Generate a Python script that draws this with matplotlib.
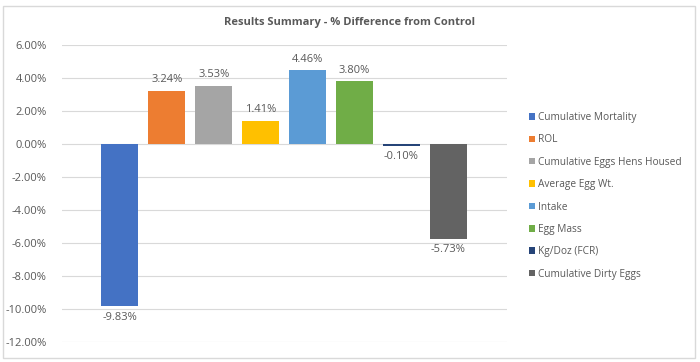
import matplotlib.pyplot as plt
import numpy as np

categories = ["Cumulative Mortality", "ROL", "Cumulative Eggs Hens Housed",
              "Average Egg Wt.", "Intake", "Egg Mass", "Kg/Doz (FCR)",
              "Cumulative Dirty Eggs"]
values = [-9.83, 3.24, 3.53, 1.41, 4.46, 3.80, -0.10, -5.73]
colors = ["#4472C4", "#ED7D31", "#A5A5A5", "#FFC000", "#5B9BD5", "#70AD47",
          "#264478", "#636363"]
yticks = [6, 4, 2, 0, -2, -4, -6, -8, -10, -12]

plt.rcParams['font.family'] = ['Open Sans', 'DejaVu Sans']
txt = "#595959"

fig = plt.figure(figsize=(7, 3.62), dpi=100)
ax = fig.add_axes([62/700, 1-342/362, (507-62)/700, (342-45)/362])

x = np.arange(len(values))
handles = []
for i, (v, c, lab) in enumerate(zip(values, colors, categories)):
    b = ax.bar(x[i], v, width=0.79, color=c, label=lab, zorder=3)
    handles.append(b)
    if v >= 0:
        ax.annotate(f"{v:.2f}%", (x[i], v), xytext=(0, 4), textcoords="offset points",
                    ha="center", va="bottom", fontsize=8, color=txt)
    else:
        ax.annotate(f"{v:.2f}%", (x[i], v), xytext=(0, -4), textcoords="offset points",
                    ha="center", va="top", fontsize=8, color=txt)

ax.set_xlim(-1.234, 8.255)
ax.set_ylim(-12, 6)
ax.set_yticks(yticks)
ax.set_yticklabels([f"{t:.2f}%" for t in yticks], fontsize=8, color=txt)
ax.set_xticks([])
ax.tick_params(axis='y', length=0, pad=11)
ax.grid(axis='y', color="#D9D9D9", linewidth=0.8, zorder=0)
for s in ax.spines.values():
    s.set_visible(False)

fig.text(350/700, 1-22/362, "Results Summary - % Difference from Control",
         ha="center", va="center", fontsize=8, fontweight="bold", color=txt)

leg = fig.legend(handles=handles, labels=categories, loc="upper left",
                 bbox_to_anchor=(520/700, 1-103/362), frameon=False,
                 fontsize=7.3, handlelength=0.6, handleheight=0.6,
                 handletextpad=0.3, labelspacing=1.12, labelcolor=txt)

border = plt.Rectangle((3/700, 4/362), 692/700, 352/362, transform=fig.transFigure,
                       fill=False, edgecolor="#D9D9D9", linewidth=1)
fig.patches.append(border)

fig.savefig("out.png", dpi=100)
